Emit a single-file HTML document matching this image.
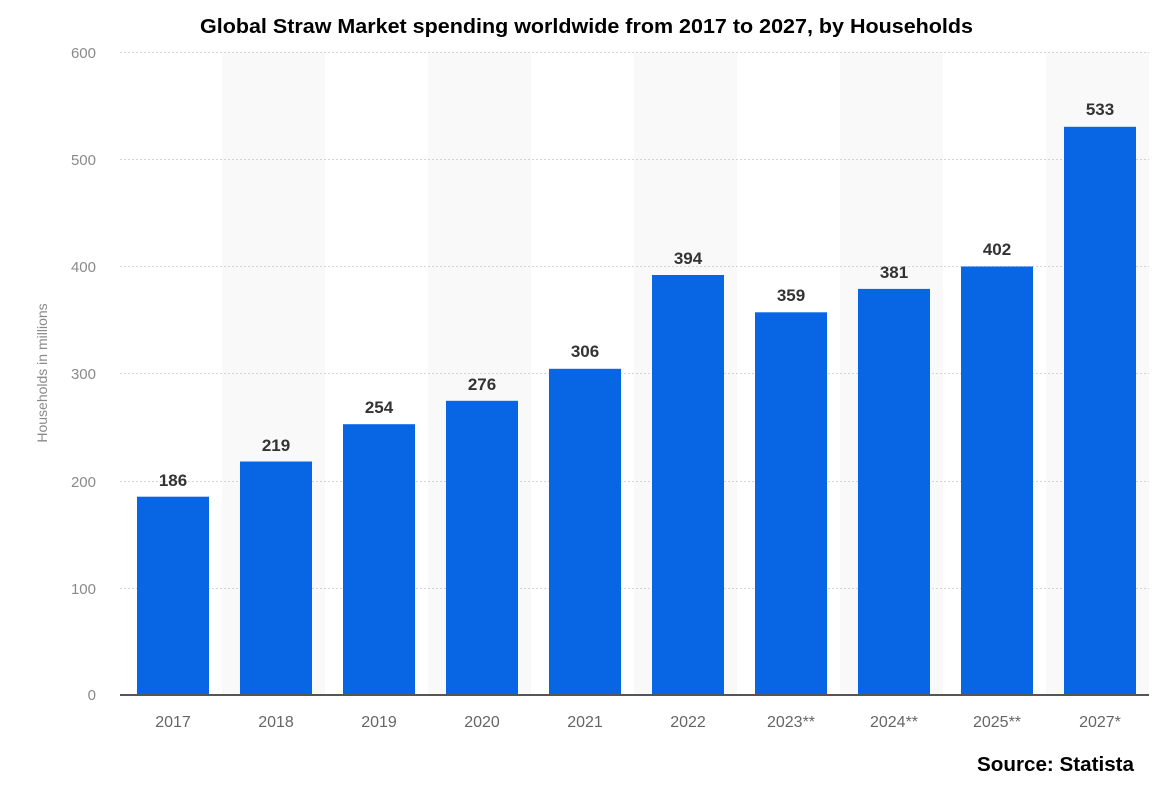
<!DOCTYPE html>
<html><head><meta charset="utf-8"><style>
html,body{margin:0;padding:0;background:#fff;}
svg text{font-family:"Liberation Sans",sans-serif;}
</style></head><body>
<svg width="1162" height="787" xmlns="http://www.w3.org/2000/svg">
<rect width="1162" height="787" fill="#fff"/>
<g fill="#f9f9f9">
<rect x="222" y="52" width="103" height="643"/>
<rect x="428" y="52" width="103" height="643"/>
<rect x="634" y="52" width="103" height="643"/>
<rect x="840" y="52" width="103" height="643"/>
<rect x="1046" y="52" width="103" height="643"/>
</g>
<g stroke="#d4d4d4" stroke-width="1" stroke-dasharray="2,2">
<line x1="120" x2="1149" y1="52.5" y2="52.5"/>
<line x1="120" x2="1149" y1="159.5" y2="159.5"/>
<line x1="120" x2="1149" y1="266.5" y2="266.5"/>
<line x1="120" x2="1149" y1="373.5" y2="373.5"/>
<line x1="120" x2="1149" y1="481.5" y2="481.5"/>
<line x1="120" x2="1149" y1="588.5" y2="588.5"/>
</g>
<g fill="#8a8a8a" font-size="15" text-anchor="end">
<text x="96" y="58">600</text>
<text x="96" y="165">500</text>
<text x="96" y="272">400</text>
<text x="96" y="379">300</text>
<text x="96" y="487">200</text>
<text x="96" y="594">100</text>
<text x="96" y="700">0</text>
</g>
<text transform="translate(47,373) rotate(-90)" fill="#8a8a8a" font-size="14" text-anchor="middle">Households in millions</text>
<g fill="#0866e4">
<rect x="137" y="496.7" width="72" height="198.3"/>
<rect x="240" y="461.5" width="72" height="233.5"/>
<rect x="343" y="424.2" width="72" height="270.8"/>
<rect x="446" y="400.8" width="72" height="294.2"/>
<rect x="549" y="368.8" width="72" height="326.2"/>
<rect x="652" y="275" width="72" height="420"/>
<rect x="755" y="312.3" width="72" height="382.7"/>
<rect x="858" y="288.9" width="72" height="406.1"/>
<rect x="961" y="266.5" width="72" height="428.5"/>
<rect x="1064" y="126.8" width="72" height="568.2"/>
</g>
<line x1="120" x2="1149" y1="695" y2="695" stroke="#555" stroke-width="2"/>
<g fill="#333" font-size="17" font-weight="bold" text-anchor="middle">
<text x="173" y="486">186</text>
<text x="276" y="451">219</text>
<text x="379" y="413">254</text>
<text x="482" y="390">276</text>
<text x="585" y="357">306</text>
<text x="688" y="264">394</text>
<text x="791" y="301">359</text>
<text x="894" y="278">381</text>
<text x="997" y="255">402</text>
<text x="1100" y="115">533</text>
</g>
<g fill="#666" font-size="16" text-anchor="middle">
<text x="173" y="727">2017</text>
<text x="276" y="727">2018</text>
<text x="379" y="727">2019</text>
<text x="482" y="727">2020</text>
<text x="585" y="727">2021</text>
<text x="688" y="727">2022</text>
<text x="791" y="727">2023**</text>
<text x="894" y="727">2024**</text>
<text x="997" y="727">2025**</text>
<text x="1100" y="727">2027*</text>
</g>
<text x="200" y="33" font-size="20" font-weight="bold" fill="#000" textLength="773" lengthAdjust="spacingAndGlyphs">Global Straw Market spending worldwide from 2017 to 2027, by Households</text>
<text x="977" y="771" font-size="20" font-weight="bold" fill="#000" textLength="157" lengthAdjust="spacingAndGlyphs">Source: Statista</text>
</svg>
</body></html>
